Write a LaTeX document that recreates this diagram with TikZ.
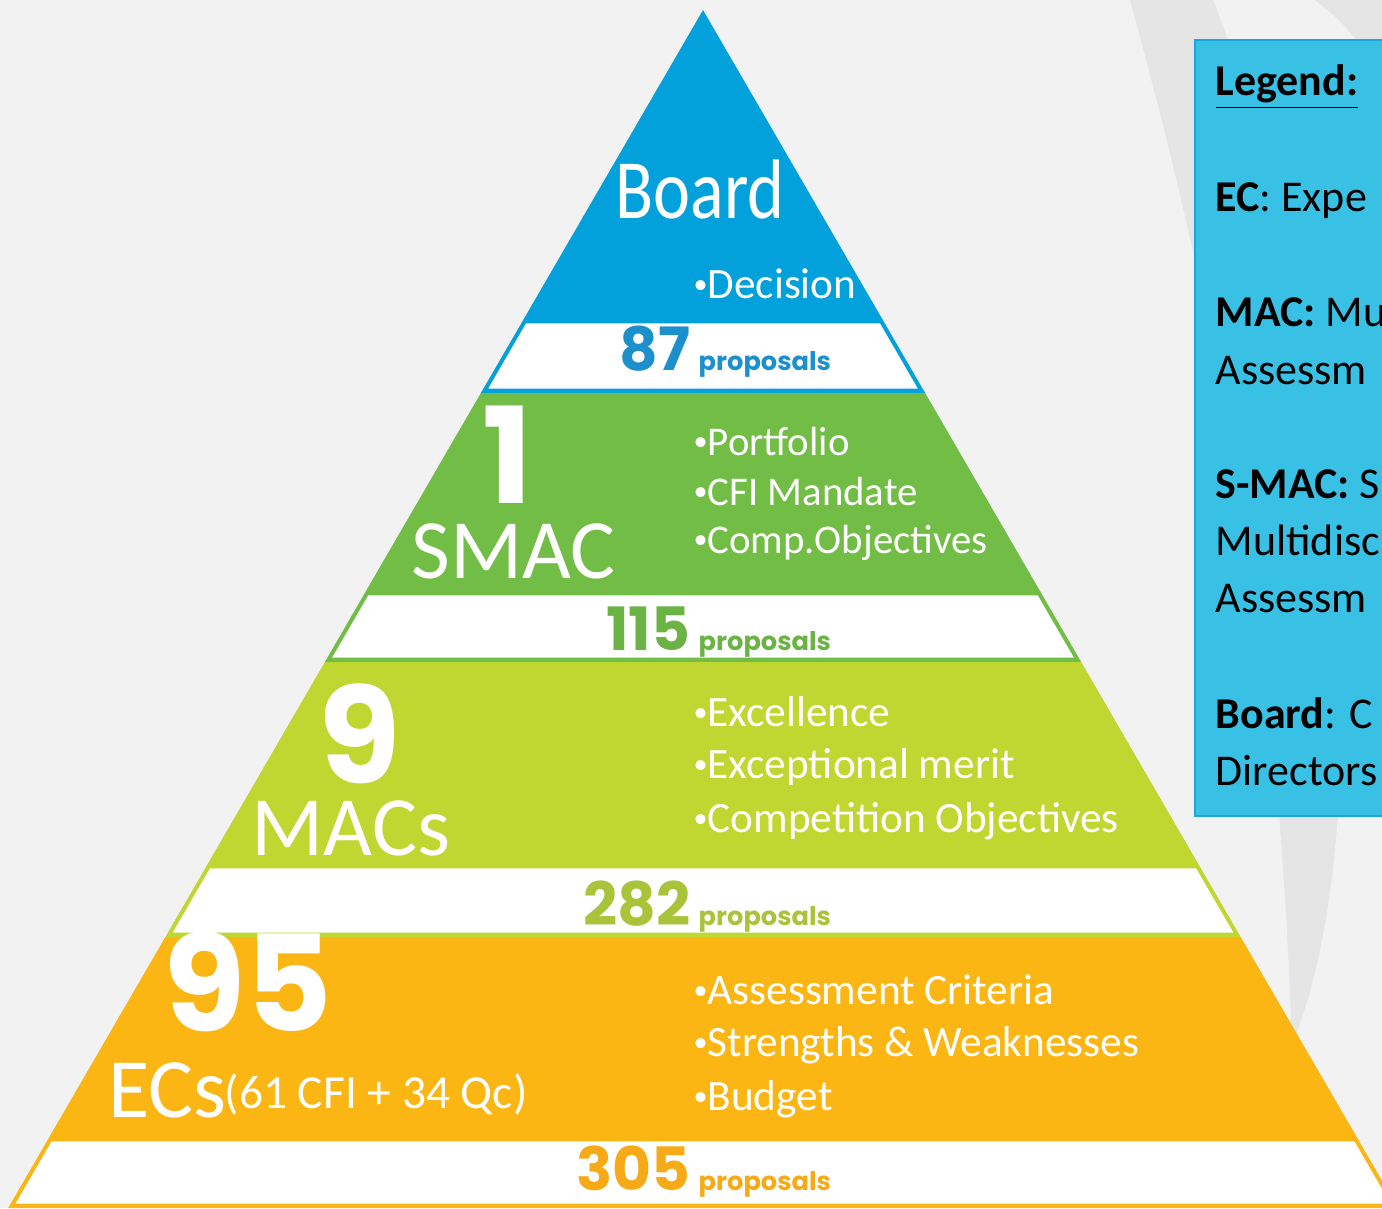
\documentclass[tikz,border=0pt]{standalone}
\usepackage{fontspec}
\usepackage{graphicx}
\setmainfont{Carlito}
\newfontfamily\numfont{Poppins}
\usetikzlibrary{positioning}

\definecolor{bggray}{HTML}{F2F2F2}
\definecolor{swoosh}{HTML}{E5E5E5}
\definecolor{boardblue}{HTML}{02A1DB}
\definecolor{smacgreen}{HTML}{72BD45}
\definecolor{macgreen}{HTML}{BFD730}
\definecolor{ecorange}{HTML}{FCB614}
\definecolor{bluetext}{HTML}{1C8FCD}
\definecolor{greentext}{HTML}{6AB344}
\definecolor{limetext}{HTML}{A9C43A}
\definecolor{orangetext}{HTML}{F6AA18}
\definecolor{legendfill}{HTML}{38C1E5}
\definecolor{legendline}{HTML}{1AA6E0}

% small bullet in front of the criteria
\newcommand{\bul}{\raisebox{1.2pt}{\fontsize{8}{8}\selectfont •}}

\begin{document}
\begin{tikzpicture}[x=0.01cm, y=-0.01cm,
tierlabel/.style={text=white, inner sep=0pt, anchor=base west, font=\fontsize{24}{24}\selectfont},
bignum/.style={text=white, inner sep=0pt, anchor=base west, font=\numfont\bfseries\fontsize{38}{38}\selectfont},
bulletline/.style={text=white, inner sep=0pt, anchor=base west, font=\fontsize{12.3}{14}\selectfont},
count/.style={inner sep=0pt, anchor=base east, font=\numfont\bfseries\fontsize{17}{17}\selectfont},
props/.style={inner sep=0pt, anchor=base west, font=\numfont\bfseries\fontsize{7.3}{8}\selectfont},
legendtext/.style={inner sep=0pt, anchor=base west, font=\fontsize{12.5}{16}\selectfont},
]
\useasboundingbox (0,0) rectangle (1382,1208);
\clip (0,0) rectangle (1382,1208);

% background and swoosh
\fill[bggray] (0,0) rectangle (1382,1208);
\fill[swoosh] (1130,0) .. controls (1240,400) and (1280,700) .. (1292,1045)
  .. controls (1390,800) and (1330,300) .. (1213,0) -- cycle;
\fill[swoosh] (1315,0) .. controls (1340,20) .. (1360,45) -- (1382,45) -- (1382,0) -- cycle;

% pyramid tiers: top / white band top / white band bottom / tier end / colour
\foreach \ytop/\ywa/\ywb/\yend/\col in {10/322/390/393/boardblue, 393/594/659/662/smacgreen, 662/867/934/937/macgreen, 937/1140/1205/1208/ecorange}{
  \pgfmathsetmacro\xtl{703-0.58*(\ytop-10)}
  \pgfmathsetmacro\xtr{703+0.58*(\ytop-10)}
  \pgfmathsetmacro\xbl{703-0.58*(\yend-10)}
  \pgfmathsetmacro\xbr{703+0.58*(\yend-10)}
  \fill[\col] (\xtl,\ytop) -- (\xtr,\ytop) -- (\xbr,\yend) -- (\xbl,\yend) -- cycle;
  \pgfmathsetmacro\wtl{703-0.58*(\ywa-10)+3}
  \pgfmathsetmacro\wtr{703+0.58*(\ywa-10)-3}
  \pgfmathsetmacro\wbl{703-0.58*(\ywb-10)+3}
  \pgfmathsetmacro\wbr{703+0.58*(\ywb-10)-3}
  \filldraw[fill=white, draw=\col, line width=0.8pt] (\wtl,\ywa) -- (\wtr,\ywa) -- (\wbr,\ywb) -- (\wbl,\ywb) -- cycle;
}

% Board
\node[tierlabel, anchor=base] (board) at (700,218) {\scalebox{0.83}[1]{Board}};
\node[bulletline] (decision) at (693,298) {\bul Decision};
\node[count, text=bluetext] (count-board) at (691,370) {87};
\node[props, text=bluetext] (prop-board) at ([xshift=2]count-board.base east) {proposals};

% SMAC
\node[bignum] (one) at (482,503) {1};
\node[tierlabel] (smac) at (411,578) {SMAC};
\node[bulletline, font=\fontsize{11.6}{14}\selectfont] (portfolio) at (693,455) {\bul Portfolio};
\node[bulletline, font=\fontsize{11.6}{14}\selectfont] (mandate) at (693,505) {\bul CFI Mandate};
\node[bulletline, font=\fontsize{11.6}{14}\selectfont] (compobj) at (693,553) {\bul Comp.Objectives};
\node[count, text=greentext] (count-smac) at (691,650) {115};
\node[props, text=greentext] (prop-smac) at ([xshift=2]count-smac.base east) {proposals};

% MACs
\node[bignum] (nine) at (318,783) {9};
\node[tierlabel] (macs) at (251,855) {MACs};
\node[bulletline] (excellence) at (693,726) {\bul Excellence};
\node[bulletline] (merit) at (693,778) {\bul Exceptional merit};
\node[bulletline] (competition) at (693,832) {\bul Competition Objectives};
\node[count, text=limetext] (count-macs) at (691,925) {282};
\node[props, text=limetext] (prop-macs) at ([xshift=2]count-macs.base east) {proposals};

% ECs
\node[bignum] (ninetyfive) at (163,1031) {95};
\node[tierlabel] (ecs) at (108,1117) {ECs};
\node[tierlabel, font=\fontsize{13.5}{14}\selectfont] (ecsplit) at (224,1108) {(61 CFI + 34 Qc)};
\node[bulletline] (criteria) at (693,1004) {\bul Assessment Criteria};
\node[bulletline] (strengths) at (693,1056) {\bul Strengths \& Weaknesses};
\node[bulletline] (budget) at (693,1110) {\bul Budget};
\node[count, text=orangetext] (count-ecs) at (691,1190) {305};
\node[props, text=orangetext] (prop-ecs) at ([xshift=2]count-ecs.base east) {proposals};

% legend
\filldraw[fill=legendfill, draw=legendline, line width=0.8pt] (1195,40) rectangle (1400,816);
\node[legendtext] (legend) at (1215,95) {\textbf{\underline{Legend:}}};
\node[legendtext] (leg-ec) at (1215,211) {\textbf{EC}: Expe};
\node[legendtext] (leg-mac) at (1215,326) {\textbf{MAC:} Mu};
\node[legendtext] (leg-mac2) at (1215,384) {Assessm};
\node[legendtext] (leg-smac) at (1215,498) {\textbf{S-MAC:} S};
\node[legendtext] (leg-smac2) at (1215,555) {Multidisc};
\node[legendtext] (leg-smac3) at (1215,612) {Assessm};
\node[legendtext] (leg-board) at (1215,728) {\textbf{Board}: C};
\node[legendtext] (leg-board2) at (1215,785) {Directors};

\end{tikzpicture}
\end{document}
